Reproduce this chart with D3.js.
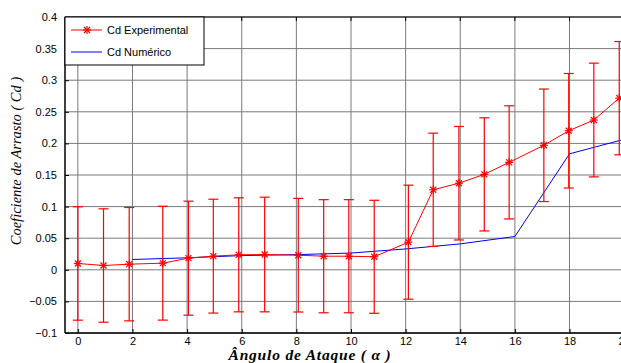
<!DOCTYPE html>
<html>
<head>
<meta charset="utf-8">
<script src="https://cdn.jsdelivr.net/npm/d3@7"></script>
<style>
html,body{margin:0;padding:0;background:#fff;overflow:hidden;}
svg{display:block;}
</style>
</head>
<body>
<svg id="chart" width="621" height="363"></svg>
<script>
// ---- Data ----
const expAngles = [0, 0.94, 1.88, 3.11, 4.05, 4.96, 5.89, 6.84, 8.07, 9.0, 9.92, 10.85, 12.10, 13.01, 13.95, 14.88, 15.79, 17.06, 17.97, 18.89, 19.82];
const expCd = [0.010, 0.0068, 0.0089, 0.0105, 0.0184, 0.0216, 0.0237, 0.0242, 0.0231, 0.0215, 0.0215, 0.0206, 0.0437, 0.1266, 0.137, 0.151, 0.170, 0.197, 0.220, 0.237, 0.2716];
const expErr = [0.0897, 0.0897, 0.0897, 0.0901, 0.0902, 0.0901, 0.0902, 0.0907, 0.0899, 0.0895, 0.0895, 0.0894, 0.0902, 0.0896, 0.0898, 0.0895, 0.0895, 0.0890, 0.0906, 0.0900, 0.0896];
const numAngles = [2, 4, 6, 8, 10, 12, 14, 16, 18, 20];
const numCd = [0.0163, 0.019, 0.0225, 0.024, 0.0265, 0.033, 0.041, 0.0527, 0.1835, 0.2065];
const xTicks = [0, 2, 4, 6, 8, 10, 12, 14, 16, 18, 20];
const yTicks = [-0.1, -0.05, 0, 0.05, 0.1, 0.15, 0.2, 0.25, 0.3, 0.35, 0.4];
const legendLabels = ["Cd Experimental", "Cd Numérico"];
const xTitle = "Ângulo de Ataque ( α )";
const yTitle = "Coeficiente de Arrasto ( Cd )";

// ---- Layout ----
const svg = d3.select("#chart");
const L = 65, R = 637, T = 17, B = 333;
const x = d3.scaleLinear().domain([-0.47, 20.47]).range([L, R]);
const y = d3.scaleLinear().domain([-0.1, 0.4]).range([B, T]);
const red = "#ff0000", blue = "#0000ff";

// grid
const grid = svg.append("g");
grid.selectAll("line.v").data(xTicks).join("line")
  .attr("x1", d => x(d)).attr("x2", d => x(d)).attr("y1", T).attr("y2", B)
  .attr("stroke", "#7a7a7a").attr("stroke-width", 1);
grid.selectAll("line.h").data(yTicks).join("line")
  .attr("x1", L).attr("x2", R).attr("y1", d => y(d)).attr("y2", d => y(d))
  .attr("stroke", "#7a7a7a").attr("stroke-width", 1);

// axes
const font = "'Liberation Sans', Arial, sans-serif";
const yAxis = d3.axisLeft(y).tickValues(yTicks).tickSize(-4).tickPadding(8)
  .tickFormat(d => d3.format("")(+d.toFixed(2)));
const gy = svg.append("g").attr("transform", `translate(${L},0)`).call(yAxis);
const xAxis = d3.axisBottom(x).tickValues(xTicks).tickSize(-4).tickPadding(4);
const gx = svg.append("g").attr("transform", `translate(0,${B})`).call(xAxis);
[gx, gy].forEach(g => {
  g.select(".domain").remove();
  g.selectAll("text").attr("font-family", font).attr("font-size", 11).attr("fill", "#000");
  g.selectAll("line").attr("stroke", "#000");
});
// top ticks
svg.append("g").selectAll("line").data(xTicks).join("line")
  .attr("x1", d => x(d)).attr("x2", d => x(d)).attr("y1", T).attr("y2", T + 4).attr("stroke", "#000");
// frame
svg.append("line").attr("x1", L).attr("x2", L).attr("y1", T).attr("y2", B).attr("stroke", "#000").attr("stroke-width", 1.5);
svg.append("line").attr("x1", L).attr("x2", R).attr("y1", B).attr("y2", B).attr("stroke", "#000").attr("stroke-width", 1.5);
svg.append("line").attr("x1", L).attr("x2", R).attr("y1", T).attr("y2", T).attr("stroke", "#000").attr("stroke-width", 1);

// numeric line
const line = d3.line().x(d => x(d[0])).y(d => y(d[1]));
svg.append("path").datum(d3.zip(numAngles, numCd)).attr("d", line)
  .attr("fill", "none").attr("stroke", blue).attr("stroke-width", 1);

// experimental error bars
const exp = expAngles.map((a, i) => ({a, v: expCd[i], e: expErr[i]}));
const eb = svg.append("g").attr("stroke", red).attr("stroke-width", 1.2);
exp.forEach(d => {
  const cx = x(d.a), y1 = y(d.v + d.e), y2 = y(d.v - d.e);
  eb.append("line").attr("x1", cx).attr("x2", cx).attr("y1", y1).attr("y2", y2);
  eb.append("line").attr("x1", cx - 5).attr("x2", cx + 5).attr("y1", y1).attr("y2", y1);
  eb.append("line").attr("x1", cx - 5).attr("x2", cx + 5).attr("y1", y2).attr("y2", y2);
});
// experimental line
svg.append("path").datum(exp.map(d => [d.a, d.v])).attr("d", line)
  .attr("fill", "none").attr("stroke", red).attr("stroke-width", 1);

function star(g, cx, cy) {
  const r = 4, rd = 3;
  const s = g.append("g").attr("stroke", red).attr("stroke-width", 1.2);
  s.append("line").attr("x1", cx - r).attr("x2", cx + r).attr("y1", cy).attr("y2", cy);
  s.append("line").attr("x1", cx).attr("x2", cx).attr("y1", cy - r).attr("y2", cy + r);
  s.append("line").attr("x1", cx - rd).attr("x2", cx + rd).attr("y1", cy - rd).attr("y2", cy + rd);
  s.append("line").attr("x1", cx - rd).attr("x2", cx + rd).attr("y1", cy + rd).attr("y2", cy - rd);
}
const mk = svg.append("g");
exp.forEach(d => star(mk, x(d.a), y(d.v)));

// legend
const lg = svg.append("g");
lg.append("rect").attr("x", L).attr("y", T).attr("width", 139).attr("height", 48)
  .attr("fill", "#fff").attr("stroke", "#000").attr("stroke-width", 1);
lg.append("line").attr("x1", 71).attr("x2", 102).attr("y1", 30).attr("y2", 30).attr("stroke", red);
star(lg, 87, 30);
lg.append("line").attr("x1", 71).attr("x2", 102).attr("y1", 52).attr("y2", 52).attr("stroke", blue);
lg.selectAll("text").data(legendLabels).join("text")
  .attr("x", 107).attr("y", (d, i) => 34 + i * 22)
  .attr("font-family", font).attr("font-size", 11).text(d => d);

// titles
svg.append("text").attr("x", 310).attr("y", 360).attr("text-anchor", "middle")
  .attr("font-family", "'Liberation Serif', 'Times New Roman', serif")
  .attr("font-style", "italic").attr("font-weight", "bold").attr("font-size", 15.5)
  .attr("letter-spacing", 0.8)
  .text(xTitle);
svg.append("text").attr("transform", "translate(21,161) rotate(-90)").attr("text-anchor", "middle")
  .attr("font-family", "'Liberation Serif', 'Times New Roman', serif")
  .attr("font-style", "italic").attr("font-size", 14.5)
  .text(yTitle);
</script>
</body>
</html>
